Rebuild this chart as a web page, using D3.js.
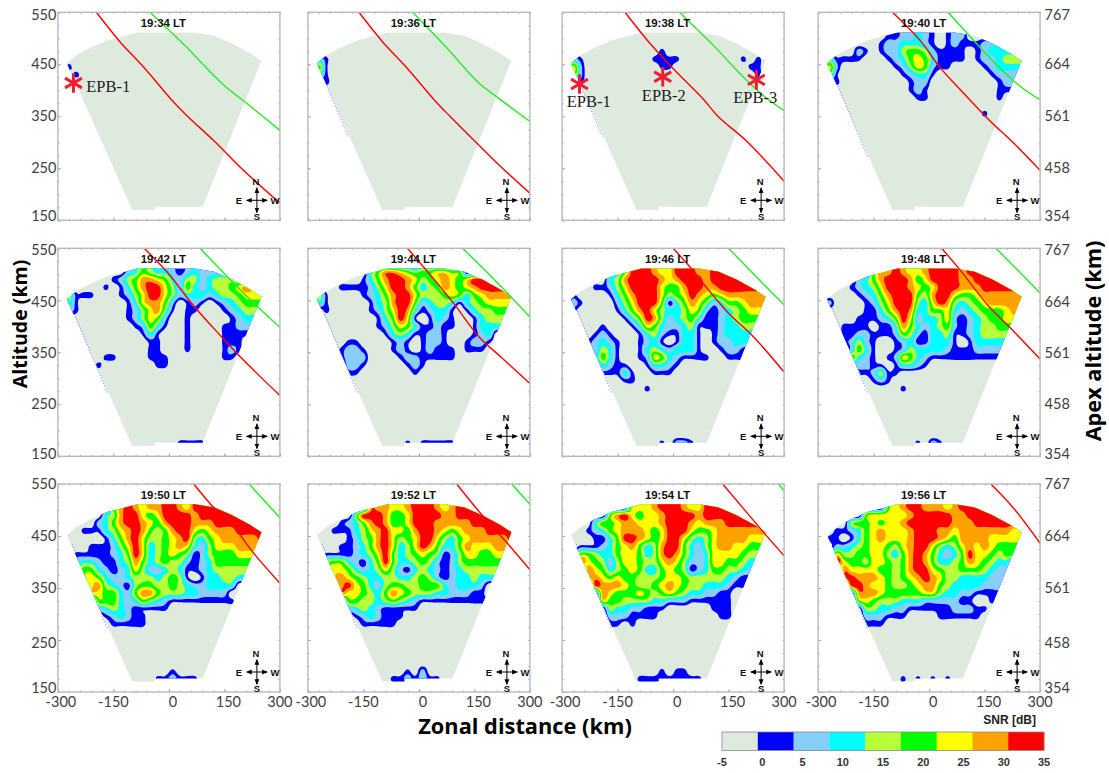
<!DOCTYPE html>
<html><head><meta charset="utf-8">
<style>html,body{margin:0;padding:0;background:#fff}svg{display:block}</style>
<script src="https://cdn.jsdelivr.net/npm/d3@7/dist/d3.min.js"></script></head>
<body><svg id="c" width="1109" height="773"></svg>
<script>
// --- values -------------------------------------------------------------
const times = ["19:34","19:36","19:38","19:40","19:42","19:44","19:46","19:48","19:50","19:52","19:54","19:56"];
const xTicks = [-300,-150,0,150,300];
const altTicks = [550,450,350,250,150];
const apexTicks = ["767","664","561","458","354"];
const snrTicks = [-5,0,5,10,15,20,25,30,35];
const bandColors = ["#dfeade","#0000ff","#87cefa","#00ffff","#b8ff3a","#00ff00","#ffff00","#ffa200","#ff0000"];
// radar field of view, [zonal km, altitude km]
const fan = [[-276,452],[-249,468],[-215,481],[-167,496],[-118,505],[-85,511],[70,511],[123,505],[171,490],[220,471],[250,457],[91,176],[-39,176],[-39,170],[-99,170]];
const edgeDotsEarly = [[-252,414],[-191,311]];
const edgeDotsLate = [[-262,435],[-165,270]];
// SNR band index (0..8) per grid cell: columns from -290 km every 20 km, rows from 520 km down every 15 km
const snr1934 = ["","","","","","01","001"];
const snr1936 = ["","","","","021","051","031","001"];
const snr1938 = ["","","",
"000000000 0000100000",
"021000000 0001111000 0000010100",
"062000000 0000110000 0000001100",
"052000000 0000000000 0000000100",
"001"];
const snr1940 = [
"000000000 1122321012 2000000000",
"000000000 1122321012 2000000000",
"000000001 2233321012 1112233333",
"000002101 2245542111 1012333333",
"031111000 1235653111 1012234444",
"062000000 0124652110 0001233333",
"041000000 0012331000 0000122222",
"001000000 0001220000 0000012222",
"000000000 0001210000 0000011111",
"000000000 0000110000 0000010000",
"",
"000000000 0000000000 0001"];
const snr1942 = [
"000000000 2354332123 2222222222",
"000000000 2354332123 2222222222",
"000000012 4577653244 2344433333",
"000000101 3578864253 2344567666",
"041110001 2468864233 3234456666",
"031000000 1367752012 1012345555",
"021000000 1246741011 0001234444",
"000000000 1246520010 0000123333",
"000000000 0125310010 0001122222",
"000000000 0013100010 0001111111",
"000000000 0001100010 0001110000",
"000000000 0001100010 0001210000",
"000000110 0001110000 0001100000",
"000001000 0000110000",
"","","","","","","","","",
"000000000 0000000111 1"];
const snr1944 = [
"000000000 0000000000",
"000000003 5776545566 5500000000",
"000000013 5788764567 6568888888",
"000011112 4688753457 6567888888",
"041000012 3578864445 6535677777",
"031000001 3478852344 3134566666",
"001000001 2468731233 1013445555",
"000000000 1358610132 1001344444",
"000000000 1246531121 1001333333",
"000000000 0134311221 0001230000",
"000001100 0012101221 0012210000",
"000012210 0012101211 1011100000",
"000012220 0001221111 1000000000",
"000002210 0000121000",
"000001100 0000010000",
"","","","","","","","",
"000000000 0000101111 1"];
const snr1946 = [
"000000235 8887668887 7888888888",
"000000235 8887668887 7888888888",
"000000347 8888767888 7888888888",
"000011246 8888655788 7788888888",
"010000135 7888645687 6567777777",
"021000024 6888513576 4235567777",
"010000013 5786433465 2123456666",
"000000001 3587423453 1123455555",
"000001000 1365322341 1123344444",
"000012100 0134211331 0123333333",
"000123210 0123101331 0122333333",
"000124310 0134323331 0012210000",
"000025310 0126532111 1001110000",
"000003211 0013321000",
"000001113 1001110000",
"000000001 1",
"000000000 0010000000",
"","","","","","",
"000000000 0000102210"];
const snr1948 = [
"000000057 7876678888 7888888888",
"000000057 7876678888 7888888888",
"000002357 8887568888 7788888888",
"000012346 8887656888 7778888888",
"000001235 7888547886 5567777777",
"020000124 6888436874 3456777777",
"000000113 5787335563 2345556788",
"000001112 3586233462 1234556666",
"000111101 1375323452 1234455555",
"000112211 1254213341 1234444444",
"000124210 0123113331 0133333333",
"000025310 0124333321 1122222222",
"000053210 1265321111 1111111000",
"000022211 0133210000",
"000001124 1100000000",
"000000012 1",
"000000000 0010000000",
"","","","","","",
"000000000 0000102100"];
const snr1950 = [
"000000057 8767788768 8888888888",
"000000057 8767788768 8888888888",
"000000347 8865688887 8888888888",
"000002357 8876578887 7788888888",
"000111346 7875457886 5677788888",
"000000135 7864456784 3567777788",
"000011124 6863456763 2466677777",
"001111123 5863456541 2455566666",
"002332113 4753454421 2355555555",
"003553212 3642234311 2344444444",
"000565322 3444345410 1334433333",
"000467432 1455445432 2333300000",
"000066553 2577544433 2222000000",
"000005553 2354321111 1111100000",
"000002343 2111110000",
"000000123 2110000000",
"000000011 1110000000",
"","","","","",
"000000000 0000001000",
"000000000 0000112111"];
const snr1952 = [
"000000007 7766788876 7888888888",
"000000007 7766788876 7888888888",
"000000488 8755688887 7888888888",
"000012357 8755688877 7778888888",
"000111346 7866578876 5677788888",
"000001245 7864568864 3567777788",
"000011235 7863468753 3576667777",
"001111234 6853456541 2466556666",
"004553213 5853345421 2455555555",
"005665323 4642134321 2344444444",
"000676543 3443345421 2334333333",
"000678653 2455445553 2333200000",
"000076654 3576544433 2221100000",
"000005544 3454321111 1111110000",
"000002343 2111110000",
"000000123 2111000000",
"000000011 1110000000",
"","","","","",
"000000000 0000102000",
"000000000 0011212110"];
const snr1954 = [
"000000000 6667888766 8888888888",
"000000000 6667888766 8888888888",
"000000578 6566788887 8888888888",
"000035567 7666788876 7778888888",
"000123567 7765688865 5677777776",
"000011358 8765688643 4677776666",
"001112356 7534788532 4677665550",
"005543356 6534787532 3666654440",
"007654246 6544676422 3665543330",
"000765345 6533565412 3554432000",
"000676565 5444566544 4443211000",
"000087776 5445676544 3332110000",
"000007655 5654565433 2211000000",
"000006554 4443322211 1111000000",
"000000433 2211100000 0111",
"000000222 1111000000 0011",
"000000110 1",
"","","","","",
"000000000 0000101100",
"000000000 0111111111"];
const snr1956 = [
"000000000 5678877767 8888888888",
"000000000 5678877767 8888888888",
"000000566 6667888887 7888888888",
"000045565 6678888887 7788888887",
"001123567 6667888776 7777777665",
"011013567 6667888765 7777666665",
"002234566 5467886434 6767655540",
"006445566 4357875323 5866545540",
"008655466 5457875334 5765433000",
"000766665 5457886544 5554322000",
"000787776 5456787644 3333222000",
"000088766 5445677543 3332220000",
"000007776 5555566433 2211110000",
"000005654 4433322222 1100100000",
"000000443 3221111112 2211010000",
"000000222 1110000111 1110000000",
"000000111",
"","","","","","",
"000000000 0010101010"];
const snrGrids = [snr1934,snr1936,snr1938,snr1940,snr1942,snr1944,snr1946,snr1948,snr1950,snr1952,snr1954,snr1956];
// red and green curves, [zonal km, altitude km]
const redLines = [
[[-196,550],[-133,494],[-65,442],[7,382],[46,353],[123,302],[200,247],[300,183]],
[[-162,550],[-99,494],[-31,442],[41,382],[84,350],[157,298],[220,254],[300,202]],
[[-130,550],[-67,494],[0,442],[83,382],[121,350],[199,302],[300,225]],
[[-99,550],[-22,494],[27,446],[94,394],[162,343],[229,298],[300,246]],
[[-67,550],[-2,502],[65,441],[142,380],[200,336],[300,267]],
[[-31,550],[27,502],[94,444],[162,380],[220,342],[300,290]],
[[0,550],[48,512],[92,473],[150,425],[217,380],[300,312]],
[[34,550],[84,508],[162,438],[229,390],[300,337]],
[[67,550],[123,503],[181,462],[229,417],[300,359]],
[[102,550],[171,490],[239,436],[300,385]],
[[134,550],[247,455],[300,412]],
[[167,550],[229,503],[300,436]]];
const greenLines = [
[[-51,550],[46,484],[142,414],[210,375],[300,323]],
[[-17,550],[80,478],[162,414],[215,385],[300,340]],
[[17,550],[112,484],[189,426],[247,388],[300,361]],
[[51,550],[123,494],[191,443],[249,406],[300,382]],
[[84,550],[171,486],[239,438],[300,398]],
[[118,550],[191,499],[300,418]],
[[150,550],[237,486],[300,441]],
[[181,550],[300,464]],
[[217,550],[300,485]],
[[251,550],[300,511]],
[[285,550],[300,537]],
[]];
const epbMarks = [{panel:0,x:-258,alt:414},{panel:2,x:-253,alt:412},{panel:2,x:-28,alt:426},{panel:2,x:225,alt:420}];
const epbLabels = [{panel:0,text:"EPB-1",x:-164,alt:397},{panel:2,text:"EPB-1",x:-228,alt:368},{panel:2,text:"EPB-2",x:-25,alt:379},{panel:2,text:"EPB-3",x:222,alt:376}];

// --- layout ---------------------------------------------------------------
const colLeft=[57.9,307.9,562.1,818.1], rowTop=[12.3,248.3,484], W=222, H=208;
const tickNudgeY=[[3,0,0,0,-4],[2,2,1,0,-2],[0,0,0,3,-4]], xNudge=[3,0,4,4,0];
const TICK="Lato,'Open Sans',sans-serif", BOLD="'Liberation Sans',Arial,sans-serif", SERIF="'Liberation Serif','Times New Roman',serif";
const svg=d3.select("#c");
const x=d3.scaleLinear().domain([-300,300]).range([0,W]);
const y=d3.scaleLinear().domain([150,550]).range([H,0]);
const line=d3.line().x(d=>x(d[0])).y(d=>y(d[1]));
const curve=d3.line().x(d=>x(d[0])).y(d=>y(d[1])).curve(d3.curveCatmullRom);
const NC=29,NR=25,UP=4;
const MC=(NC-1)*UP+1, MR=(NR-1)*UP+1;
const levels=[0.72,1.5,2.5,3.5,4.5,5.5,6.5,7.5];
const contourGen=d3.contours().size([MC,MR]).thresholds(levels);
const toPlot=d3.geoTransform({point(px,py){this.stream.point(x(-290+20*(px-0.5)/UP),y(520-15*(py-0.5)/UP));}});
const geo=d3.geoPath(toPlot);
function field(rows){
  const out=[];
  for(let r=0;r<NR;r++){
    const s=(rows[r]||"").replace(/ /g,"").padEnd(NC,"0").slice(0,NC);
    out.push(Array.from(s,Number));
  }
  return out;
}
// resample the read cells so the band edges are drawn rounded instead of as cell diamonds
function cr(a,b,c,d,t){return 0.5*((2*b)+(c-a)*t+(2*a-5*b+4*c-d)*t*t+(3*b-a-3*c+d)*t*t*t);}
function fine(g){
  const at=(r,c)=>g[Math.max(0,Math.min(NR-1,r))][Math.max(0,Math.min(NC-1,c))];
  const out=new Float64Array(MC*MR);
  for(let j=0;j<MR;j++){
    const r=Math.floor(j/UP), v=j/UP-r;
    for(let i=0;i<MC;i++){
      const c=Math.floor(i/UP), u=i/UP-c;
      const col=[-1,0,1,2].map(dr=>cr(at(r+dr,c-1),at(r+dr,c),at(r+dr,c+1),at(r+dr,c+2),u));
      let val=cr(col[0],col[1],col[2],col[3],v);
      const near=[at(r,c),at(r,c+1),at(r+1,c),at(r+1,c+1)];
      val=Math.max(d3.min(near),Math.min(d3.max(near),val));
      out[j*MC+i]=val;
    }
  }
  return out;
}
const defs=svg.append("defs");
const arrow=defs.append("marker").attr("id","ah").attr("viewBox","0 0 10 10").attr("refX",8).attr("refY",5)
  .attr("markerWidth",6).attr("markerHeight",6).attr("orient","auto-start-reverse");
arrow.append("path").attr("d","M0,1L10,5L0,9Z").attr("fill","#000");
defs.append("filter").attr("id","soft").append("feGaussianBlur").attr("stdDeviation",0.4);

times.forEach((t,i)=>{
  const col=i%4,row=Math.floor(i/4);
  const g=svg.append("g").attr("transform",`translate(${colLeft[col]},${rowTop[row]})`);
  const cid="fan"+i;
  const cl=defs.append("clipPath").attr("id",cid);
  cl.append("path").attr("d",line(fan)+"Z");
  const pc=g.append("g").attr("filter","url(#soft)");
  pc.append("path").attr("d",line(fan)+"Z").attr("fill",bandColors[0]);
  if(i>0) pc.append("path").attr("d",line(i<3?edgeDotsEarly:edgeDotsLate)).attr("stroke","#5577ff").attr("stroke-width",0.7).attr("stroke-dasharray","1.5 1.5").attr("fill","none");
  const lay=pc.append("g").attr("clip-path",`url(#${cid})`);
  const cs=contourGen(fine(field(snrGrids[i])));
  cs.forEach((c,k)=>{
    if(c.coordinates.length) lay.append("path").attr("d",geo(c)).attr("fill",bandColors[k+1]);
  });
  pc.append("path").attr("d",curve(redLines[i])).attr("fill","none").attr("stroke","#ff0000").attr("stroke-width",1.4);
  if(greenLines[i].length) pc.append("path").attr("d",curve(greenLines[i])).attr("fill","none").attr("stroke","#22ee22").attr("stroke-width",1.4);
  // frame and ticks
  const ax=(a,vals,size)=>{const gg=g.append("g").call(a.tickValues(vals).tickSize(size).tickFormat(""));gg.select(".domain").remove();gg.selectAll("line").attr("stroke","#8a8a8a").attr("stroke-width",0.7);return gg;};
  const minorX=d3.range(-300,301,30), minorY=d3.range(150,551,25);
  ax(d3.axisBottom(x),minorX,-1.6).attr("transform",`translate(0,${H})`);
  ax(d3.axisTop(x),minorX,-1.6);
  ax(d3.axisLeft(y),minorY,-1.6);
  ax(d3.axisRight(y),minorY,-1.6).attr("transform",`translate(${W},0)`);
  ax(d3.axisBottom(x),xTicks,-3).attr("transform",`translate(0,${H})`);
  ax(d3.axisLeft(y),altTicks,-3);
  g.append("rect").attr("width",W).attr("height",H).attr("fill","none").attr("stroke","#b9b9b9").attr("stroke-width",1.4);
  // title
  g.append("text").attr("x",W/2-5.5).attr("y",14.5).attr("text-anchor","middle").attr("font-family",BOLD).attr("font-weight","bold").attr("font-size",11.4).attr("fill","#111").text(t+" LT");
  // compass
  const cx=W-23,cy=H-20;
  [[cx-10,cy,cx+10,cy],[cx,cy-12,cx,cy+12]].forEach(a=>{
    g.append("line").attr("x1",a[0]).attr("y1",a[1]).attr("x2",a[2]).attr("y2",a[3]).attr("stroke","#000").attr("stroke-width",1).attr("marker-start","url(#ah)").attr("marker-end","url(#ah)");
  });
  [["N",-1,-15],["S",0,20],["E",-18,3.5],["W",18,3.5]].forEach(a=>{
    g.append("text").attr("x",cx+a[1]).attr("y",cy+a[2]).attr("text-anchor","middle").attr("font-family",BOLD).attr("font-weight","bold").attr("font-size",9.5).attr("fill","#111").text(a[0]);
  });
  // tick labels
  const tk=(sel)=>sel.attr("font-family",TICK).attr("font-size",14.5).attr("fill","#404040");
  if(col===0) altTicks.forEach((v,k)=>tk(g.append("text")).attr("x",-1.5).attr("y",y(v)+tickNudgeY[row][k]+5).attr("text-anchor","end").text(v));
  if(col===3) apexTicks.forEach((v,k)=>tk(g.append("text")).attr("x",W+4.5).attr("y",y(altTicks[k])+tickNudgeY[row][k]+5).text(v));
  if(row===2) xTicks.forEach((v,k)=>tk(g.append("text")).attr("x",x(v)+xNudge[k]).attr("y",H+15).attr("text-anchor","middle").text(v));
  // EPB annotations
  epbMarks.filter(m=>m.panel===i).forEach(m=>{
    g.append("path").attr("d",d3.symbol(d3.symbolAsterisk,270)()).attr("transform",`translate(${x(m.x)},${y(m.alt)})`).attr("fill","none").attr("stroke","#ee2030").attr("stroke-width",3);
  });
  epbLabels.filter(m=>m.panel===i).forEach(m=>{
    g.append("text").attr("x",x(m.x)).attr("y",y(m.alt)).attr("text-anchor","middle").attr("font-family",SERIF).attr("font-size",16.5).attr("fill","#222").text(m.text);
  });
});
// axis titles
const TITLE="'Open Sans',Lato,sans-serif";
svg.append("text").attr("transform","translate(27,324) rotate(-90)").attr("text-anchor","middle").attr("font-family",TITLE).attr("font-weight","bold").attr("font-size",19.5).text("Altitude (km)");
svg.append("text").attr("transform","translate(1101,341) rotate(-90)").attr("text-anchor","middle").attr("font-family",TITLE).attr("font-weight","bold").attr("font-size",21.7).text("Apex altitude (km)");
svg.append("text").attr("x",525).attr("y",734).attr("text-anchor","middle").attr("font-family",TITLE).attr("font-weight","bold").attr("font-size",21.8).text("Zonal distance (km)");
// colour bar
const lx=d3.scaleLinear().domain([-5,35]).range([722,1044]);
const bw=(lx(35)-lx(-5))/bandColors.length;
bandColors.forEach((c,i)=>svg.append("rect").attr("x",722+i*bw).attr("y",732).attr("width",bw+0.3).attr("height",18.5).attr("fill",c));
svg.append("rect").attr("x",722).attr("y",732).attr("width",322).attr("height",18.5).attr("fill","none").attr("stroke","#888").attr("stroke-width",0.8);
snrTicks.forEach(v=>svg.append("text").attr("x",lx(v)).attr("y",766).attr("text-anchor","middle").attr("font-family",BOLD).attr("font-weight","bold").attr("font-size",11).attr("fill","#333").text(v));
svg.append("text").attr("x",1036).attr("y",724).attr("text-anchor","end").attr("font-family",BOLD).attr("font-weight","bold").attr("font-size",12).attr("fill","#222").text("SNR [dB]");
</script></body></html>
